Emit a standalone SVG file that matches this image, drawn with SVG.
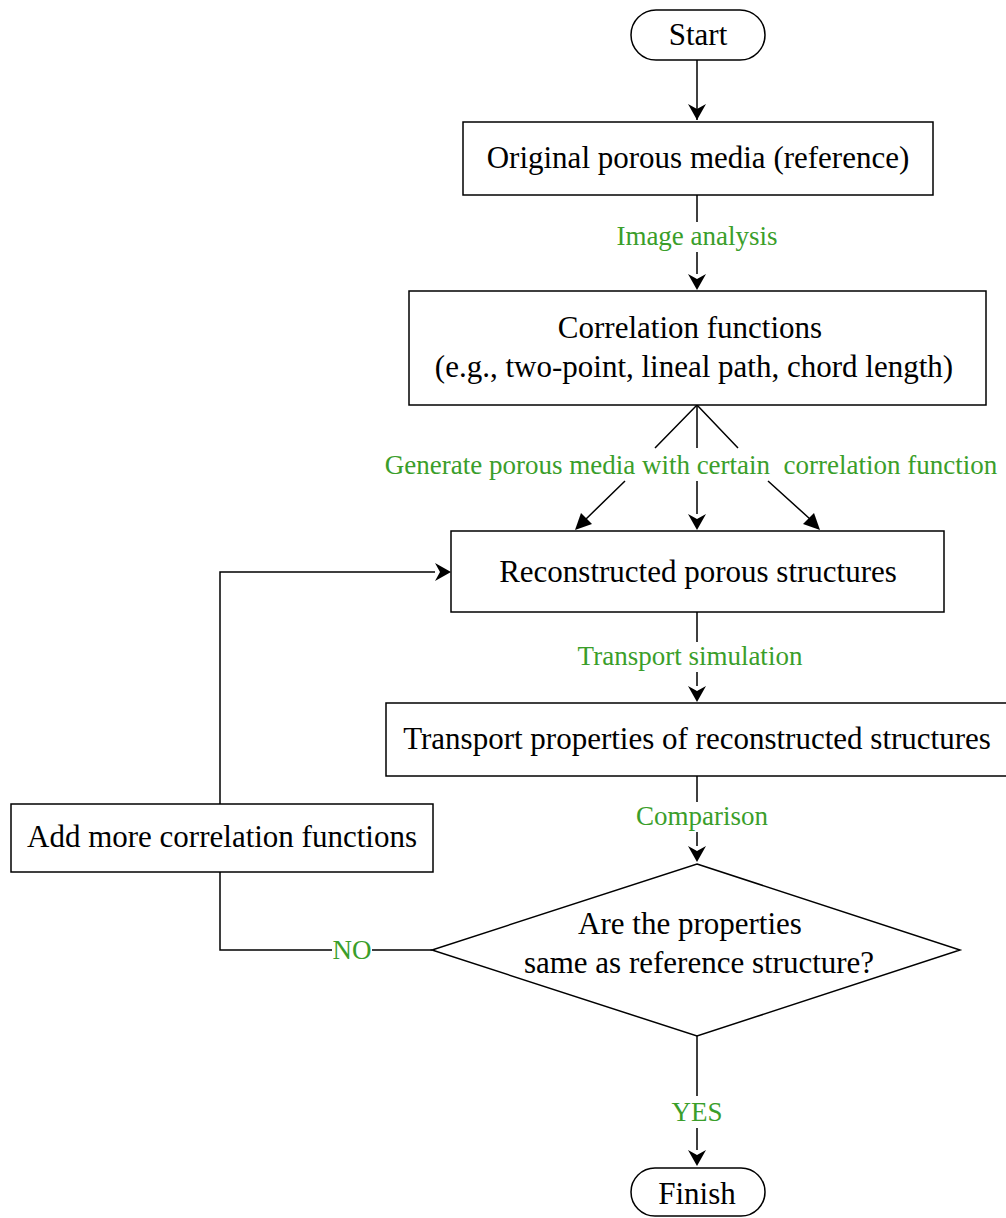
<svg xmlns="http://www.w3.org/2000/svg" width="1006" height="1218" viewBox="0 0 1006 1218">
<style>
.n{fill:#fff;stroke:#000;stroke-width:1.5}
.t{font-family:'Liberation Serif','Times New Roman',serif;font-size:31px;fill:#000;text-anchor:middle}
.g{font-family:'Liberation Serif','Times New Roman',serif;font-size:27px;fill:#3a9e2a;text-anchor:middle}
.c{fill:none;stroke:#000;stroke-width:1.5}
</style>
<rect width="1006" height="1218" fill="#fff"/>
<g id="connectors">
<path class="c" d="M697,60 V120"/>
<path d="M688,104 L697,120 L706,104 L697,109 z" fill="#000"/>
<path class="c" d="M697,195 V222 M697,252 V274"/>
<path d="M688,274 L697,290 L706,274 L697,279 z" fill="#000"/>
<path class="c" d="M697,405 L655,448 M625,481 L586,519"/>
<path d="M575,530 L581,513 L592,524 z" fill="#000"/>
<path class="c" d="M697,405 V448 M697,481 V514"/>
<path d="M688,514 L697,530 L706,514 L697,519 z" fill="#000"/>
<path class="c" d="M697,405 L738,448 M768,481 L810,519"/>
<path d="M820,530 L803,524 L814,513 z" fill="#000"/>
<path class="c" d="M697,612 V642 M697,672 V686"/>
<path d="M688,686 L697,702 L706,686 L697,691 z" fill="#000"/>
<path class="c" d="M697,776 V802 M697,832 V846"/>
<path d="M688,846 L697,862 L706,846 L697,851 z" fill="#000"/>
<path class="c" d="M432,950 H372 M332,950 H220 V872"/>
<path class="c" d="M220,804 V572 H435"/>
<path d="M435,563 L451,572 L435,581 L440,572 z" fill="#000"/>
<path class="c" d="M697,1036 V1096 M697,1128 V1150"/>
<path d="M688,1150 L697,1166 L706,1150 L697,1155 z" fill="#000"/>
<text class="g" x="697" y="245">Image analysis</text>
<text class="g" x="691" y="474" xml:space="preserve">Generate porous media with certain  correlation function</text>
<text class="g" x="690" y="665">Transport simulation</text>
<text class="g" x="702" y="825">Comparison</text>
<text class="g" x="352" y="959">NO</text>
<text class="g" x="697" y="1121">YES</text>
</g>
<g id="start"><rect class="n" x="631" y="10" width="134" height="50" rx="25"/><text class="t" x="698" y="45">Start</text></g>
<g id="original"><rect class="n" x="463" y="122" width="470" height="73"/><text class="t" x="698" y="168">Original porous media (reference)</text></g>
<g id="correlation"><rect class="n" x="409" y="291" width="577" height="114"/><text class="t" x="690" y="338">Correlation functions</text><text class="t" x="694" y="377">(e.g., two-point, lineal path, chord length)</text></g>
<g id="reconstructed"><rect class="n" x="451" y="531" width="493" height="81"/><text class="t" x="698" y="582">Reconstructed porous structures</text></g>
<g id="transport"><rect class="n" x="386" y="703" width="625" height="73"/><text class="t" x="697" y="749">Transport properties of reconstructed structures</text></g>
<g id="add"><rect class="n" x="11" y="804" width="422" height="68"/><text class="t" x="222" y="847">Add more correlation functions</text></g>
<g id="decision"><path class="n" d="M697,864 L960,950 L697,1036 L432,950 z"/><text class="t" x="690" y="934">Are the properties</text><text class="t" x="699" y="973">same as reference structure?</text></g>
<g id="finish"><rect class="n" x="631" y="1168" width="134" height="48" rx="24"/><text class="t" x="697" y="1204">Finish</text></g>
</svg>
